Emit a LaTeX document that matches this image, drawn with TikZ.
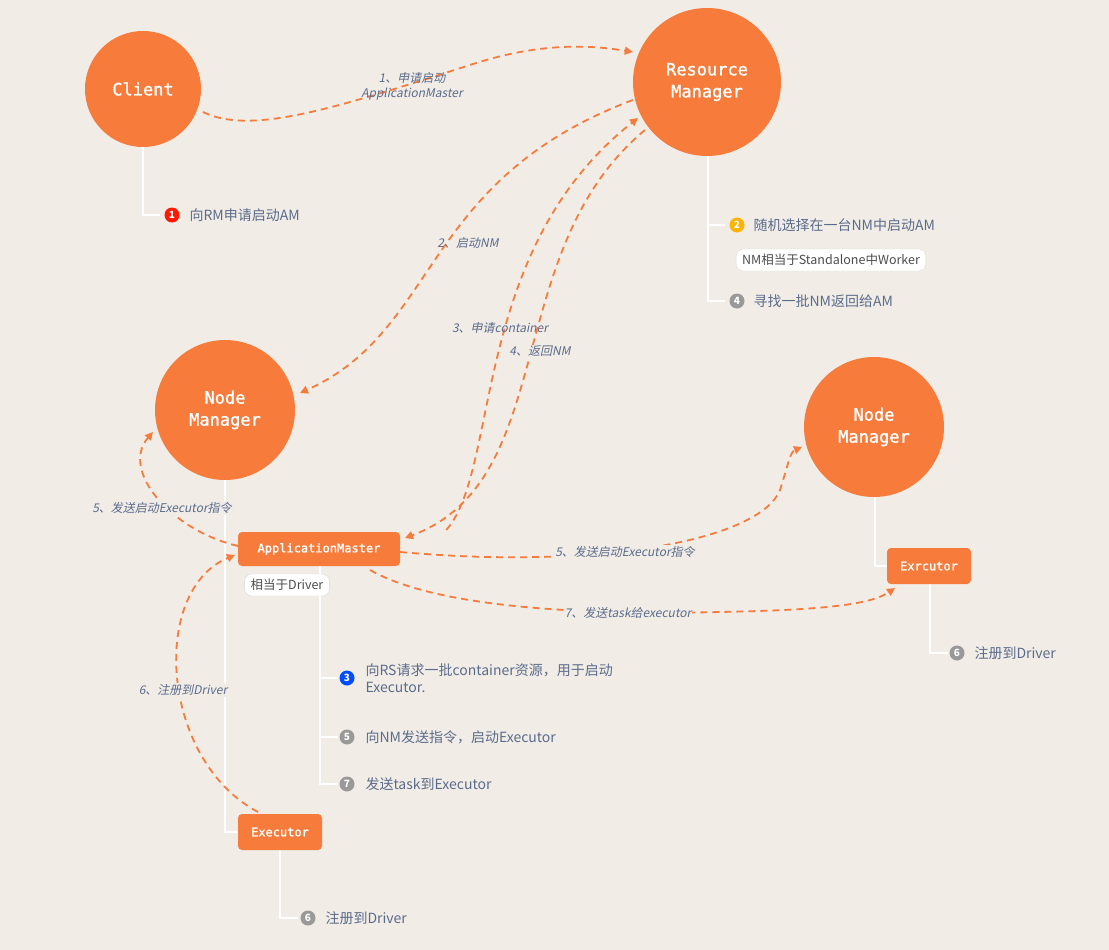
\documentclass[tikz,border=0pt]{standalone}
\usepackage{fontspec}
\setmainfont{Noto Sans CJK SC}
\newfontfamily\lbl[FakeSlant=0.2]{Noto Sans CJK SC}
\newfontfamily\monob[FakeBold=1.5]{DejaVu Sans Mono}
\usetikzlibrary{arrows.meta}
\definecolor{bg}{HTML}{F1EDE6}
\definecolor{org}{HTML}{F77B3B}
\definecolor{txt}{HTML}{5B6B8C}
\tikzset{
 x=1pt,y=-1pt,
 circ/.style={circle,fill=org,text=white,font=\monob\fontsize{17}{22}\selectfont,align=center,inner sep=0},
 obox/.style={rectangle,rounded corners=4pt,fill=org,text=white,font=\monob\fontsize{12}{14}\selectfont,inner sep=0},
 tree/.style={draw=white,line width=2pt},
 bul/.style={circle,fill=#1,text=white,font=\bfseries\fontsize{10}{10}\selectfont,minimum size=15pt,inner sep=0},
 btxt/.style={anchor=west,text=txt,font=\fontsize{14}{17}\selectfont,align=left},
 pill/.style={rectangle,rounded corners=7pt,fill=white,draw=black!15,text=black!70,font=\fontsize{12.5}{14}\selectfont,minimum height=22pt,inner xsep=6pt},
 arr/.style={draw=org,line width=1.8pt,dash pattern=on 7pt off 5pt,-{Triangle[length=8pt,width=8pt]}},
 lab/.style={text=txt,font=\lbl\fontsize{12}{15}\selectfont,align=center}
}
\begin{document}
\begin{tikzpicture}
\fill[bg] (0,0) rectangle (1109,950);
\useasboundingbox (0,0) rectangle (1109,950);
% trees
\draw[tree] (143,140) -- (143,215) -- (160,215);
\draw[tree] (708,150) -- (708,301) -- (725,301);
\draw[tree] (708,225) -- (725,225);
\draw[tree] (225,475) -- (225,832) -- (240,832);
\draw[tree] (320,566) -- (320,784) -- (338,784);
\draw[tree] (320,678) -- (338,678);
\draw[tree] (320,737) -- (338,737);
\draw[tree] (280,850) -- (280,918) -- (298,918);
\draw[tree] (875,490) -- (875,566) -- (890,566);
\draw[tree] (930,584) -- (930,653) -- (948,653);
% nodes
\node[circ,minimum size=116pt] (cl) at (143,89) {Client};
\node[circ,minimum size=148pt] (rm) at (707,82) {Resource\\Manager};
\node[circ,minimum size=140pt] (nm1) at (225,410) {Node\\Manager};
\node[circ,minimum size=140pt] (nm2) at (874,427) {Node\\Manager};
\node[obox,minimum width=162pt,minimum height=34pt] (am) at (319,549) {ApplicationMaster};
\node[obox,minimum width=84pt,minimum height=36pt] (ex) at (280,832) {Executor};
\node[obox,minimum width=84pt,minimum height=36pt] (ex2) at (929,566) {Exrcutor};
\node[pill] (p1) at (831,260) {NM相当于Standalone中Worker};
\node[pill] (p2) at (287,585) {相当于Driver};
% bullets
\node[bul={red!80!orange}] (b1) at (172,215) {1};
\node[btxt] (t1) at (186,215) {向RM申请启动AM};
\node[bul={orange!60!yellow}] (b2) at (737,225) {2};
\node[btxt] (t2) at (750,225) {随机选择在一台NM中启动AM};
\node[bul=black!40] (b4) at (737,301) {4};
\node[btxt] (t4) at (750,301) {寻找一批NM返回给AM};
\node[bul={blue!70!cyan}] (b3) at (347,678) {3};
\node[btxt] (t3) at (362,678) {向RS请求一批container资源，用于启动\\Executor.};
\node[bul=black!40] (b5) at (347,737) {5};
\node[btxt] (t5) at (362,737) {向NM发送指令，启动Executor};
\node[bul=black!40] (b7) at (347,784) {7};
\node[btxt] (t7) at (362,784) {发送task到Executor};
\node[bul=black!40] (b6) at (308,918) {6};
\node[btxt] (t6) at (322,918) {注册到Driver};
\node[bul=black!40] (b6b) at (957,653) {6};
\node[btxt] (t6b) at (971,653) {注册到Driver};
% arrows
\coordinate (c1) at (203,112);
\draw[arr] (c1) .. controls (250,135) and (330,110) .. (470,65) .. controls (540,42) and (590,45) .. (rm.west|-0,52);
\node[lab] at (412,86) {1、申请启动\\ApplicationMaster};
\draw[arr] (rm.west|-0,100) .. controls (420,180) and (440,330) .. (300,393);
\node[lab] at (468,243) {2、启动NM};
\draw[arr] (am.north east|-0,530) ++(46,0) .. controls (500,470) and (470,250) .. (638,118);
\node[lab] at (500,328) {3、申请container};
\draw[arr] (645,130) .. controls (500,250) and (560,480) .. (405,538);
\node[lab,fill=bg,inner sep=1pt] at (540,351) {4、返回NM};
\draw[arr] (238,546) .. controls (170,530) and (120,470) .. (153,432);
\node[lab,fill=bg,inner sep=1pt] at (162,508) {5、发送启动Executor指令};
\draw[arr] (am.east|-0,552) .. controls (600,570) and (760,540) .. (780,490) .. controls (788,465) and (790,452) .. (802,447);
\node[lab,fill=bg,inner sep=1pt] at (625,552) {5、发送启动Executor指令};
\draw[arr] (258,812) .. controls (160,760) and (150,590) .. (235,555);
\node[lab,fill=bg,inner sep=1pt] at (183,690) {6、注册到Driver};
\draw[arr] (370,570) .. controls (440,610) and (600,615) .. (720,612) .. controls (820,610) and (870,605) .. (895,588);
\node[lab,fill=bg,inner sep=1pt] at (628,613) {7、发送task给executor};
\end{tikzpicture}
\end{document}
